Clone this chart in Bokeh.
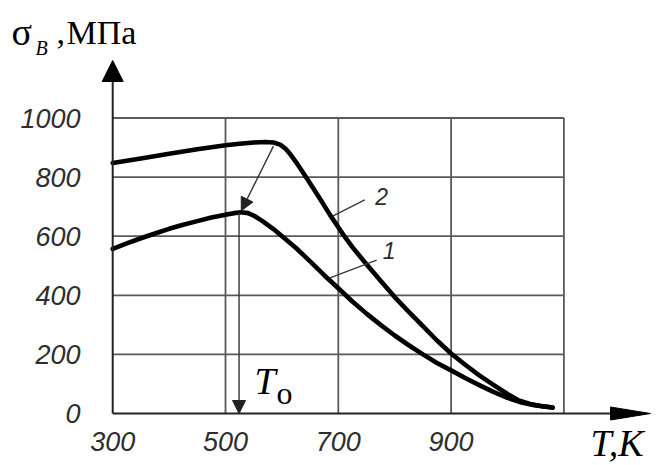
from bokeh.plotting import figure
from bokeh.models import Range1d, Arrow, NormalHead
from bokeh.core.properties import value
from bokeh.embed import file_html
from bokeh.resources import INLINE

# ---------------- data ----------------
T_curve1 = [300, 325, 350, 375, 400, 425, 450, 475, 500, 515, 528, 540, 550, 565, 585, 605, 625, 650,
            675, 700, 725, 750, 775, 800, 825, 850, 875, 900, 925, 950, 975, 1000, 1025, 1050, 1080]
S_curve1 = [557, 576, 593, 609, 625, 639, 651, 663, 673, 678, 681, 678, 670, 652, 624, 592, 560, 515,
            468, 424, 379, 338, 300, 264, 231, 200, 171, 146, 120, 96, 73, 53, 37, 27, 20]

T_curve2 = [300, 350, 400, 450, 500, 525, 550, 570, 585, 597, 607, 615, 625, 640, 655, 670, 685, 700,
            710, 725, 750, 775, 800, 825, 850, 875, 900, 925, 950, 975, 1000, 1020, 1040, 1060, 1080]
S_curve2 = [848, 863, 879, 894, 908, 913, 917, 919, 917, 910, 895, 877, 851, 808, 764, 719, 673, 630,
            602, 563, 505, 449, 394, 344, 296, 247, 203, 165, 129, 97, 66, 44, 32, 25, 20]

x_ticks = [300, 500, 700, 900]
y_ticks = [0, 200, 400, 600, 800, 1000]
grid_T = [500, 700, 900, 1100]
grid_S = [200, 400, 600, 800, 1000]

T_o = 524                       # transition temperature (vertical arrow)
shift_from = [585, 905]         # start of the diagonal arrow (on curve 2)
shift_to = [528, 686]           # tip of the diagonal arrow (peak of curve 1)

curve_label_T = [790, 777]
curve_label_S = [551, 736]
curve_label_text = ["1", "2"]
leader_T0 = [684, 690]
leader_S0 = [458, 668]
leader_T1 = [768, 747]
leader_S1 = [519, 723]

# ---------------- layout (page pixel mapping) ----------------
X0, KX = 112.2, 0.564      # page x of T=300, px per K
Y0, KY = 413.0, 0.2955     # page y of sigma=0, px per MPa
FIG_W, FIG_H = 657, 465

def T_of(px):
    return 300 + (px - X0) / KX

def S_of(py):
    return (Y0 - py) / KY

p = figure(width=FIG_W, height=FIG_H, title=None,
           x_range=Range1d(T_of(0), T_of(FIG_W)),
           y_range=Range1d(S_of(FIG_H), S_of(0)),
           x_axis_location=None, y_axis_location=None,
           output_backend="svg", toolbar_location=None, min_border=0)
p.outline_line_color = None
p.xgrid.visible = False
p.ygrid.visible = False
p.background_fill_color = "white"
p.border_fill_color = "white"

GRID = "#5a5a5a"
TICK_COLOR = "#2e2e2e"
# grid
p.segment(x0=grid_T, y0=0, x1=grid_T, y1=max(y_ticks), line_color=GRID, line_width=1.8)
p.segment(x0=min(x_ticks), y0=grid_S, x1=max(grid_T), y1=grid_S, line_color=GRID, line_width=1.8)

# tick labels (through the plot's scales)
p.text(x=[T_of(80)] * len(y_ticks), y=y_ticks, text=[str(v) for v in y_ticks],
       text_font=value("Liberation Sans"), text_font_style="italic", text_font_size="27px",
       text_color=TICK_COLOR, text_align="right", text_baseline="middle")
p.text(x=x_ticks, y=[S_of(441)] * len(x_ticks), text=[str(v) for v in x_ticks],
       text_font=value("Liberation Sans"), text_font_style="italic", text_font_size="27px",
       text_color=TICK_COLOR, text_align="center", text_baseline="middle")

# axes with arrows
y_tip = S_of(60)
p.add_layout(Arrow(end=NormalHead(size=21, fill_color="black", line_color="black", line_width=1),
                   x_start=300, y_start=0, x_end=300, y_end=y_tip,
                   line_color="#222222", line_width=2))
x_tip = T_of(650)
x_base = T_of(610)
half_h = 6.5 / KY
p.segment(x0=300, y0=0, x1=x_base + 2, y1=0, line_color="#222222", line_width=2)
p.patch([x_base, x_tip, x_base], [half_h, 0, -half_h], fill_color="black", line_color="black", line_width=1)

# curves
p.line(T_curve1, S_curve1, line_color="black", line_width=4.6, line_join="round", line_cap="round")
p.line(T_curve2, S_curve2, line_color="black", line_width=4.6, line_join="round", line_cap="round")

# transition arrows
p.add_layout(Arrow(end=NormalHead(size=13, fill_color="#222222", line_color="#222222", line_width=1),
                   x_start=shift_from[0], y_start=shift_from[1], x_end=shift_to[0], y_end=shift_to[1],
                   line_color="#333333", line_width=1.4))
p.add_layout(Arrow(end=NormalHead(size=13, fill_color="#222222", line_color="#222222", line_width=1),
                   x_start=T_o, y_start=shift_to[1] - 6, x_end=T_o, y_end=0,
                   line_color="#333333", line_width=1.4))

# curve labels and leaders
p.segment(x0=leader_T0, y0=leader_S0, x1=leader_T1, y1=leader_S1, line_color="#3a3a3a", line_width=1.4)
p.text(x=curve_label_T, y=curve_label_S, text=curve_label_text,
       text_font=value("Liberation Sans"), text_font_style="italic", text_font_size="23px",
       text_color=TICK_COLOR, text_align="center", text_baseline="middle")

# other texts (py = visual middle of the capitals on the page)
def lab(px, py, txt, size, style="normal", font="Liberation Serif"):
    p.text(x=[T_of(px)], y=[S_of(py)], text=[txt], text_font=value(font),
           text_font_size=size, text_font_style=style, text_color="black",
           text_align="left", text_baseline="middle")

lab(11, 31, "σ", "38px")
lab(35, 47, "B", "20px", "italic")
lab(56, 32, ",", "34px")
lab(66, 32, "МПа", "34px")
lab(254, 380, "T", "38px", "italic")
lab(276, 392, "o", "32px")
lab(590, 442, "T,K", "38px", "italic")

open("out.html", "w").write(file_html(p, INLINE))
